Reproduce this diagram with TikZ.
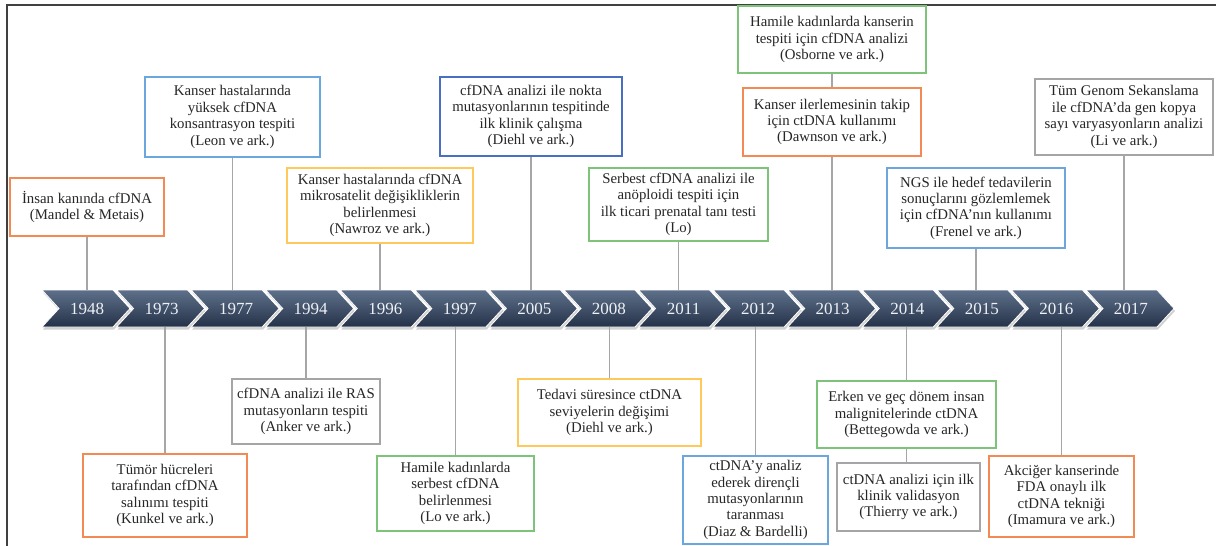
\documentclass[tikz,border=0pt]{standalone}
\usepackage{fontspec}
\setmainfont{Liberation Serif}
\definecolor{txt}{HTML}{262626}
\definecolor{connc}{HTML}{A6A6A6}
\definecolor{framec}{HTML}{404040}
\definecolor{orangec}{HTML}{F28A55}
\definecolor{lblue}{HTML}{6CA6DF}
\definecolor{dblue}{HTML}{4A6FC2}
\definecolor{yellowc}{HTML}{FFC85A}
\definecolor{greenc}{HTML}{7DC47A}
\definecolor{grayc}{HTML}{A5A5A5}
\definecolor{chevtop}{HTML}{5E708A}
\definecolor{chevbot}{HTML}{243248}
\definecolor{yrtxt}{HTML}{EEF1F5}
\begin{document}
\begin{tikzpicture}[x=1pt,y=-1pt,
  box/.style={draw, line width=1.3pt, fill=white, align=center,
    font=\fontsize{14.8}{16.4}\selectfont, text=txt, inner sep=1pt},
  conn/.style={draw=connc, line width=1.3pt},
  yrlabel/.style={minimum width=70pt, minimum height=37pt, inner sep=0pt,
    text=yrtxt, font=\fontsize{17}{19}\selectfont}
]
\useasboundingbox (0,0) rectangle (1216,546);
\fill[white] (0,0) rectangle (1216,546);
\draw[framec, line width=1.4pt] (7,550) -- (7,5) -- (1220,5);

% chevrons
\foreach \yr [count=\i from 0] in {1948,1973,1977,1994,1996,1997,2005,2008,2011,2012,2013,2014,2015,2016,2017} {
  \pgfmathsetmacro\xo{42+74.57*\i}
  \fill[black, opacity=.18] (\xo+1,292.5) -- ++(71,0) -- ++(17,18.5) -- ++(-17,18.5) -- ++(-71,0) -- ++(17,-18.5) -- cycle;
  \path[top color=chevtop, bottom color=chevbot, draw=white, line width=0.8pt]
    (\xo,290) -- ++(71,0) -- ++(17,18.5) -- ++(-17,18.5) -- ++(-71,0) -- ++(17,-18.5) -- cycle;
  \node[yrlabel] (y\yr) at (\xo+45,308.5) {\yr};
}

% top boxes
\node[box, draw=orangec, minimum width=154pt, minimum height=58pt] (T1) at (87,207)
  {İnsan kanında cfDNA\\(Mandel \& Metais)};
\node[box, draw=lblue, minimum width=175pt, minimum height=80pt] (T2) at (232.5,117)
  {Kanser hastalarında\\yüksek cfDNA\\konsantrasyon tespiti\\(Leon ve ark.)};
\node[box, draw=yellowc, minimum width=186pt, minimum height=75pt] (T3) at (380,205.5)
  {Kanser hastalarında cfDNA\\mikrosatelit değişikliklerin\\belirlenmesi\\(Nawroz ve ark.)};
\node[box, draw=dblue, minimum width=182pt, minimum height=79pt] (T4) at (531,116.5)
  {cfDNA analizi ile nokta\\mutasyonlarının tespitinde\\ilk klinik çalışma\\(Diehl ve ark.)};
\node[box, draw=greenc, minimum width=179pt, minimum height=73pt] (T5) at (678.5,204.5)
  {Serbest cfDNA analizi ile\\anöploidi tespiti için\\ilk ticari prenatal tanı testi\\(Lo)};
\node[box, draw=greenc, minimum width=188pt, minimum height=67pt] (T6) at (832,39.5)
  {Hamile kadınlarda kanserin\\tespiti için cfDNA analizi\\(Osborne ve ark.)};
\node[box, draw=orangec, minimum width=178pt, minimum height=68pt] (T7) at (832,122)
  {Kanser ilerlemesinin takip\\için ctDNA kullanımı\\(Dawnson ve ark.)};
\node[box, draw=lblue, minimum width=178pt, minimum height=80pt] (T8) at (976,208)
  {NGS ile hedef tedavilerin\\sonuçlarını gözlemlemek\\için cfDNA'nın kullanımı\\(Frenel ve ark.)};
\node[box, draw=grayc, minimum width=178pt, minimum height=76pt] (T9) at (1124,117)
  {Tüm Genom Sekanslama\\ile cfDNA’da gen kopya\\sayı varyasyonların analizi\\(Li ve ark.)};

% bottom boxes
\node[box, draw=orangec, minimum width=164pt, minimum height=83pt] (B1) at (165,495.5)
  {Tümör hücreleri\\tarafından cfDNA\\salınımı tespiti\\(Kunkel ve ark.)};
\node[box, draw=grayc, minimum width=148pt, minimum height=65pt] (B2) at (306,411.5)
  {cfDNA analizi ile RAS\\mutasyonların tespiti\\(Anker ve ark.)};
\node[box, draw=greenc, minimum width=157pt, minimum height=75pt] (B3) at (455.5,493.5)
  {Hamile kadınlarda\\serbest cfDNA\\belirlenmesi\\(Lo ve ark.)};
\node[box, draw=yellowc, minimum width=183pt, minimum height=67pt] (B4) at (609.5,412.5)
  {Tedavi süresince ctDNA\\seviyelerin değişimi\\(Diehl ve ark.)};
\node[box, draw=lblue, minimum width=145pt, minimum height=88pt] (B5) at (755.5,500)
  {ctDNA’y analiz\\ederek dirençli\\mutasyonlarının\\taranması\\(Diaz \& Bardelli)};
\node[box, draw=greenc, minimum width=179pt, minimum height=67pt] (B6) at (906.5,414.5)
  {Erken ve geç dönem insan\\malignitelerinde ctDNA\\(Bettegowda ve ark.)};
\node[box, draw=grayc, minimum width=143pt, minimum height=68pt] (B7) at (908.5,497)
  {ctDNA analizi için ilk\\klinik validasyon\\(Thierry ve ark.)};
\node[box, draw=orangec, minimum width=145pt, minimum height=81pt] (B8) at (1061.5,496.5)
  {Akciğer kanserinde\\FDA onaylı ilk\\ctDNA tekniği\\(Imamura ve ark.)};

% connectors
\draw[conn] (T1.south) -- (T1.south |- y1948.north);
\draw[conn] (T2.south) -- (T2.south |- y1977.north);
\draw[conn] (T3.south) -- (T3.south |- y1996.north);
\draw[conn] (T4.south) -- (T4.south |- y2005.north);
\draw[conn] (T5.south) -- (T5.south |- y2011.north);
\draw[conn] (T6.south) -- (T7.north);
\draw[conn] (T7.south) -- (T7.south |- y2013.north);
\draw[conn] (T8.south) -- (T8.south |- y2015.north);
\draw[conn] (T9.south) -- (T9.south |- y2017.north);
\draw[conn] (B1.north) -- (B1.north |- y1973.south);
\draw[conn] (B2.north) -- (B2.north |- y1994.south);
\draw[conn] (B3.north) -- (B3.north |- y1997.south);
\draw[conn] (B4.north) -- (B4.north |- y2008.south);
\draw[conn] (B5.north) -- (B5.north |- y2012.south);
\draw[conn] (B6.north) -- (B6.north |- y2014.south);
\draw[conn] (B6.south) -- (B6.south |- B7.north);
\draw[conn] (B8.north) -- (B8.north |- y2016.south);
\end{tikzpicture}
\end{document}
